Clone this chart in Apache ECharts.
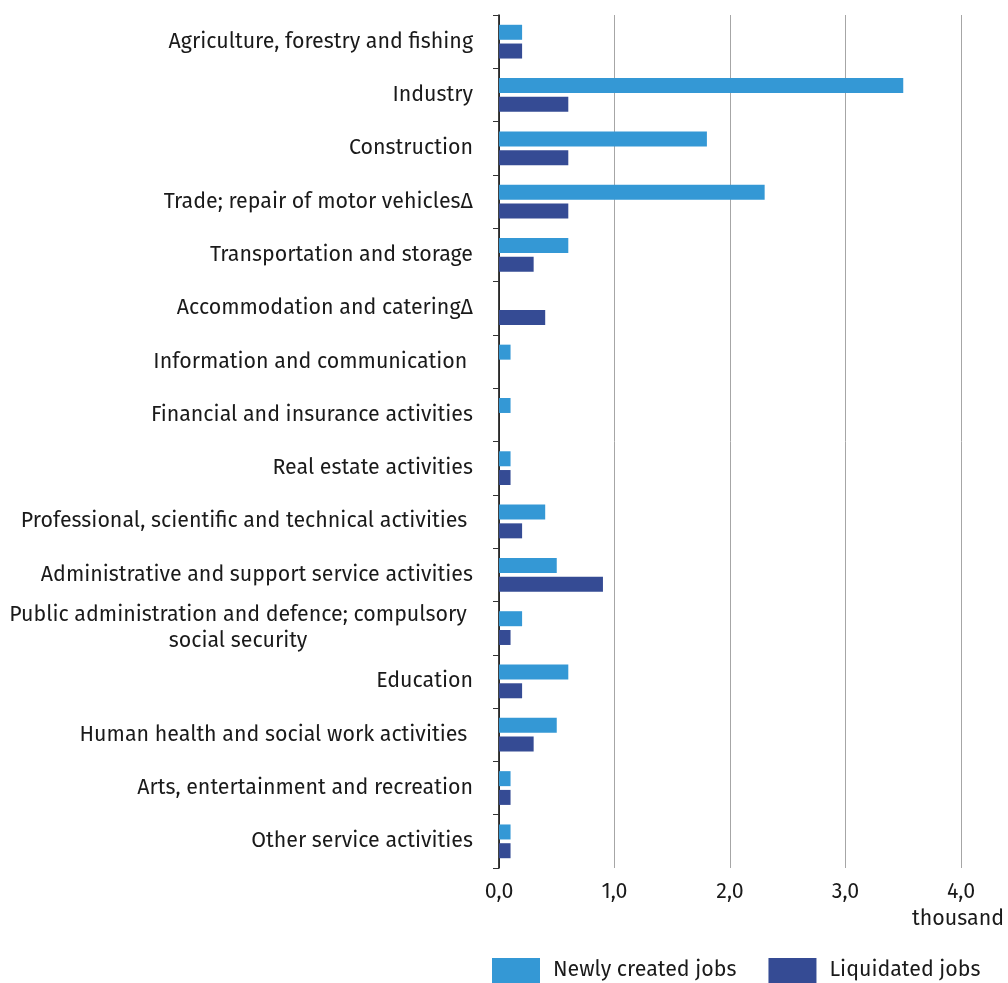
<!DOCTYPE html>
<html>
<head>
<meta charset="utf-8">
<script src="https://cdn.jsdelivr.net/npm/echarts@6/dist/echarts.min.js"></script>
<style>
html,body{margin:0;padding:0;background:#fff;}
#chart{width:1008px;height:983px;}
</style>
</head>
<body>
<div id="chart"></div>
<script>
const categories = [
  "Agriculture, forestry and fishing",
  "Industry",
  "Construction",
  "Trade; repair of motor vehicles\u0394",
  "Transportation and storage",
  "Accommodation and catering\u0394",
  "Information and communication\u00a0",
  "Financial and insurance activities",
  "Real estate activities",
  "Professional, scientific and technical activities\u00a0",
  "Administrative and support service activities",
  "Public administration and defence; compulsory\nsocial security",
  "Education",
  "Human health and social work activities\u00a0",
  "Arts, entertainment and recreation",
  "Other service activities"
];
const newlyCreated = [0.2, 3.5, 1.8, 2.3, 0.6, 0, 0.1, 0.1, 0.1, 0.4, 0.5, 0.2, 0.6, 0.5, 0.1, 0.1];
const liquidated   = [0.2, 0.6, 0.6, 0.6, 0.3, 0.4, 0, 0, 0.1, 0.2, 0.9, 0.1, 0.2, 0.3, 0.1, 0.1];
const xTicks = [0, 1, 2, 3, 4];
const seriesNames = ["Newly created jobs", "Liquidated jobs"];
const unitLabel = "thousand";

const FONT = "'Fira Sans', 'Noto Sans', 'Open Sans', sans-serif";
const FS = 21.4;
const chart = echarts.init(document.getElementById('chart'), null, {renderer: 'canvas'});
chart.setOption({
  animation: false,
  textStyle: {fontFamily: FONT},
  grid: {left: 497, right: 47, top: 15, bottom: 115, containLabel: false},
  legend: {
    bottom: -5, left: 487,
    itemWidth: 48, itemHeight: 25, itemGap: 32,
    icon: 'rect',
    textStyle: {fontSize: FS, color: '#1a1a1a', fontFamily: FONT, padding: [0, 0, 0, 8]},
    data: seriesNames
  },
  xAxis: {
    type: 'value', min: xTicks[0], max: xTicks[xTicks.length - 1], interval: 1,
    axisLine: {show: false}, axisTick: {show: false},
    splitLine: {show: true, lineStyle: {color: '#a6a6a6', width: 1}},
    axisLabel: {
      fontSize: FS, color: '#1a1a1a', margin: 14, fontFamily: FONT,
      formatter: v => v.toFixed(1).replace('.', ',')
    }
  },
  yAxis: {
    type: 'category', data: categories, inverse: true,
    axisLine: {show: true, lineStyle: {color: '#000', width: 1.5}},
    axisTick: {show: true, length: 6, lineStyle: {color: '#333'}},
    axisLabel: {
      fontSize: FS, color: '#1a1a1a', margin: 26, fontFamily: FONT, lineHeight: 26,
      formatter: function (v) {
        if (v.indexOf('\n') >= 0) {
          return v.split('\n').map(s => '{c|' + s + '}').join('\n');
        }
        return v;
      },
      rich: {c: {width: 470, align: 'center', fontSize: FS, color: '#1a1a1a', fontFamily: FONT, lineHeight: 26}}
    }
  },
  graphic: [{
    type: 'text', right: 4, top: 909,
    style: {text: unitLabel, fontSize: FS, fill: '#1a1a1a', fontFamily: FONT, textAlign: 'right'}
  }],
  series: [
    {name: seriesNames[0], type: 'bar', data: newlyCreated, barWidth: 15, barGap: '25%',
     itemStyle: {color: '#3498d5'}},
    {name: seriesNames[1], type: 'bar', data: liquidated, barWidth: 15, barGap: '25%',
     itemStyle: {color: '#354b94'}}
  ]
});
</script>
</body>
</html>
